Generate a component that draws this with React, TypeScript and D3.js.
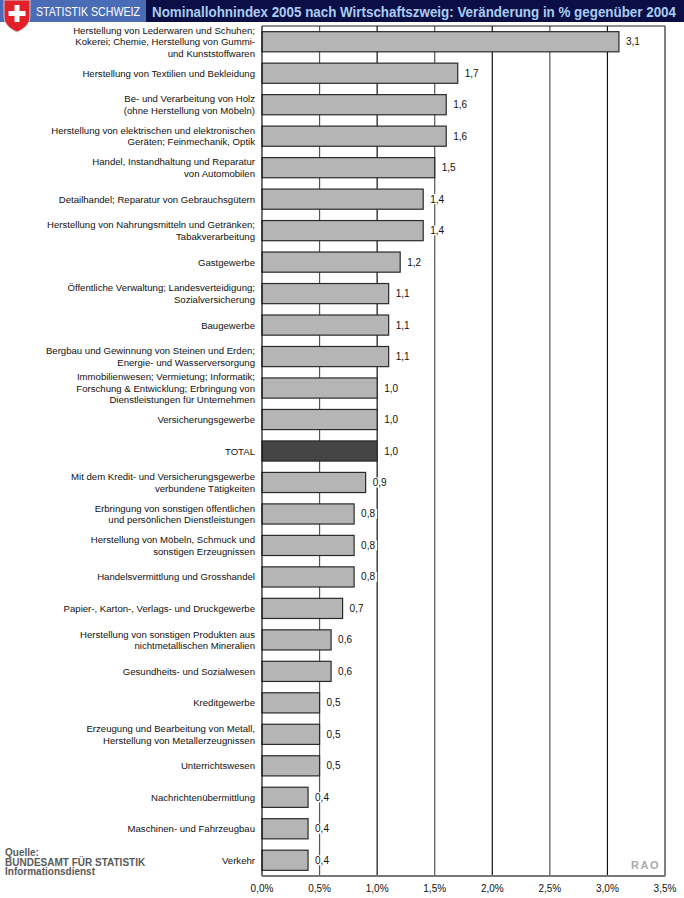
import React, { useEffect, useRef } from "react";
import * as d3 from "d3";

const categories: string[][] = [
  ["Herstellung von Lederwaren und Schuhen;", "Kokerei; Chemie, Herstellung von Gummi-", "und Kunststoffwaren"],
  ["Herstellung von Textilien und Bekleidung"],
  ["Be- und Verarbeitung von Holz", "(ohne Herstellung von Möbeln)"],
  ["Herstellung von elektrischen und elektronischen", "Geräten; Feinmechanik, Optik"],
  ["Handel, Instandhaltung und Reparatur", "von Automobilen"],
  ["Detailhandel; Reparatur von Gebrauchsgütern"],
  ["Herstellung von Nahrungsmitteln und Getränken;", "Tabakverarbeitung"],
  ["Gastgewerbe"],
  ["Öffentliche Verwaltung; Landesverteidigung;", "Sozialversicherung"],
  ["Baugewerbe"],
  ["Bergbau und Gewinnung von Steinen und Erden;", "Energie- und Wasserversorgung"],
  ["Immobilienwesen; Vermietung; Informatik;", "Forschung & Entwicklung; Erbringung von", "Dienstleistungen für Unternehmen"],
  ["Versicherungsgewerbe"],
  ["TOTAL"],
  ["Mit dem Kredit- und Versicherungsgewerbe", "verbundene Tätigkeiten"],
  ["Erbringung von sonstigen öffentlichen", "und persönlichen Dienstleistungen"],
  ["Herstellung von Möbeln, Schmuck und", "sonstigen Erzeugnissen"],
  ["Handelsvermittlung und Grosshandel"],
  ["Papier-, Karton-, Verlags- und Druckgewerbe"],
  ["Herstellung von  sonstigen Produkten aus", "nichtmetallischen Mineralien"],
  ["Gesundheits- und Sozialwesen"],
  ["Kreditgewerbe"],
  ["Erzeugung und Bearbeitung von Metall,", "Herstellung von Metallerzeugnissen"],
  ["Unterrichtswesen"],
  ["Nachrichtenübermittlung"],
  ["Maschinen- und Fahrzeugbau"],
  ["Verkehr"],
];

const values: number[] = [
  3.1, 1.7, 1.6, 1.6, 1.5, 1.4, 1.4, 1.2, 1.1, 1.1, 1.1, 1.0, 1.0, 1.0,
  0.9, 0.8, 0.8, 0.8, 0.7, 0.6, 0.6, 0.5, 0.5, 0.5, 0.4, 0.4, 0.4,
];

const ticks: number[] = [0, 0.5, 1, 1.5, 2, 2.5, 3, 3.5];

const title = "Nominallohnindex 2005 nach Wirtschaftszweig: Veränderung in % gegenüber 2004";
const sourceLines = ["Quelle:", "BUNDESAMT FÜR STATISTIK", "Informationsdienst"];

const W = 684;
const H = 898;
const left = 262;
const right = 665;
const top = 26;
const bottom = 876;
const font = "'Liberation Sans', Arial, sans-serif";
const fmt = (v: number, d: number) => v.toFixed(d).replace(".", ",");

export default function App() {
  const svgRef = useRef<SVGSVGElement>(null);

  useEffect(() => {
    if (!svgRef.current) return;
    const svg = d3.select(svgRef.current);
    svg.selectAll("*").remove();

    const x = d3.scaleLinear().domain([0, 3.5]).range([left, right]);
    const y = d3
      .scaleBand<number>()
      .domain(d3.range(categories.length))
      .range([top, bottom])
      .paddingInner(0.36)
      .paddingOuter(0.18);

    svg.append("rect").attr("width", W).attr("height", H).attr("fill", "#fff");

    // header
    svg.append("rect").attr("x", 0).attr("y", 0).attr("width", W).attr("height", 22).attr("fill", "#0c0f45");
    svg.append("rect").attr("x", 0).attr("y", 0).attr("width", 146).attr("height", 22).attr("fill", "#4a6cb6");
    svg
      .append("text")
      .attr("x", 36)
      .attr("y", 16)
      .attr("font-family", font)
      .attr("font-size", 12.5)
      .attr("fill", "#fff")
      .attr("textLength", 104)
      .attr("lengthAdjust", "spacingAndGlyphs")
      .text("STATISTIK SCHWEIZ");
    svg
      .append("text")
      .attr("x", 152)
      .attr("y", 16.5)
      .attr("font-family", font)
      .attr("font-weight", "bold")
      .attr("font-size", 14)
      .attr("fill", "#a9cdf2")
      .attr("textLength", 524)
      .attr("lengthAdjust", "spacingAndGlyphs")
      .text(title);

    // swiss shield
    const shield = svg.append("g");
    shield
      .append("path")
      .attr("d", "M4,0 H30 V16 C30,24 24,29 17,32 C10,29 4,24 4,16 Z")
      .attr("fill", "#e3202a")
      .attr("stroke", "#c9c9c9")
      .attr("stroke-width", 1);
    shield.append("rect").attr("x", 14.5).attr("y", 5).attr("width", 5).attr("height", 17).attr("fill", "#fff");
    shield.append("rect").attr("x", 8.5).attr("y", 11).attr("width", 17).attr("height", 5).attr("fill", "#fff");

    // grid
    svg
      .append("g")
      .selectAll("line")
      .data(ticks.slice(1))
      .join("line")
      .attr("x1", (d) => x(d))
      .attr("x2", (d) => x(d))
      .attr("y1", top)
      .attr("y2", bottom)
      .attr("stroke", (d, i) => (i % 2 === 0 ? "#555" : "#111"))
      .attr("stroke-width", (d) => (d === 3.5 ? 1.5 : 1.2));

    svg
      .append("line")
      .attr("x1", left)
      .attr("x2", right)
      .attr("y1", top)
      .attr("y2", top)
      .attr("stroke", "#222")
      .attr("stroke-width", 1.2);

    // bars
    svg
      .append("g")
      .selectAll("rect")
      .data(values)
      .join("rect")
      .attr("x", x(0))
      .attr("y", (d, i) => y(i)!)
      .attr("width", (d) => x(d) - x(0))
      .attr("height", y.bandwidth())
      .attr("fill", (d, i) => (categories[i][0] === "TOTAL" ? "#454545" : "#b5b5b5"))
      .attr("stroke", "#2a2a2a")
      .attr("stroke-width", 1.2);

    // value labels with white knock-out
    const vl = svg.append("g");
    values.forEach((d, i) => {
      const cy = y(i)! + y.bandwidth() / 2;
      vl.append("rect")
        .attr("x", x(d) + 6)
        .attr("y", cy - 5)
        .attr("width", 17)
        .attr("height", 10)
        .attr("fill", "#fff");
      vl.append("text")
        .attr("x", x(d) + 7)
        .attr("y", cy + 3.5)
        .attr("font-family", font)
        .attr("font-size", 10)
        .attr("fill", "#111")
        .text(fmt(d, 1));
    });

    // category labels
    const lh = 11.6;
    const lab = svg.append("g").attr("font-family", font).attr("font-size", 9.6).attr("fill", "#111").attr("text-anchor", "end");
    categories.forEach((lines, i) => {
      const cy = y(i)! + y.bandwidth() / 2;
      const y0 = cy - ((lines.length - 1) * lh) / 2 + 3.5;
      const t = lab.append("text");
      lines.forEach((l, j) => {
        t.append("tspan").attr("x", 255).attr("y", y0 + j * lh).text(l);
      });
    });

    // axes
    svg
      .append("line")
      .attr("x1", left)
      .attr("x2", left)
      .attr("y1", top)
      .attr("y2", bottom)
      .attr("stroke", "#111")
      .attr("stroke-width", 1.2);
    svg
      .append("line")
      .attr("x1", left)
      .attr("x2", right)
      .attr("y1", bottom)
      .attr("y2", bottom)
      .attr("stroke", "#777")
      .attr("stroke-width", 2);

    svg
      .append("g")
      .selectAll("text")
      .data(ticks)
      .join("text")
      .attr("x", (d) => x(d))
      .attr("y", 892)
      .attr("text-anchor", "middle")
      .attr("font-family", font)
      .attr("font-size", 10)
      .attr("fill", "#111")
      .text((d) => fmt(d, 1) + "%");

    // source
    const src = svg.append("text").attr("font-family", font).attr("font-weight", "bold").attr("font-size", 10).attr("fill", "#5a5a5a");
    sourceLines.forEach((l, j) => {
      src.append("tspan").attr("x", 5).attr("y", 856 + j * 9.6).text(l);
    });

    svg
      .append("text")
      .attr("x", 660)
      .attr("y", 869)
      .attr("text-anchor", "end")
      .attr("font-family", font)
      .attr("font-weight", "bold")
      .attr("font-size", 11)
      .attr("letter-spacing", 1.5)
      .attr("fill", "#aaa")
      .text("RAO");
  }, []);

  return (
    <svg
      ref={svgRef}
      width={W}
      height={H}
      style={{ position: "absolute", left: 0, top: 0, display: "block" }}
    />
  );
}
